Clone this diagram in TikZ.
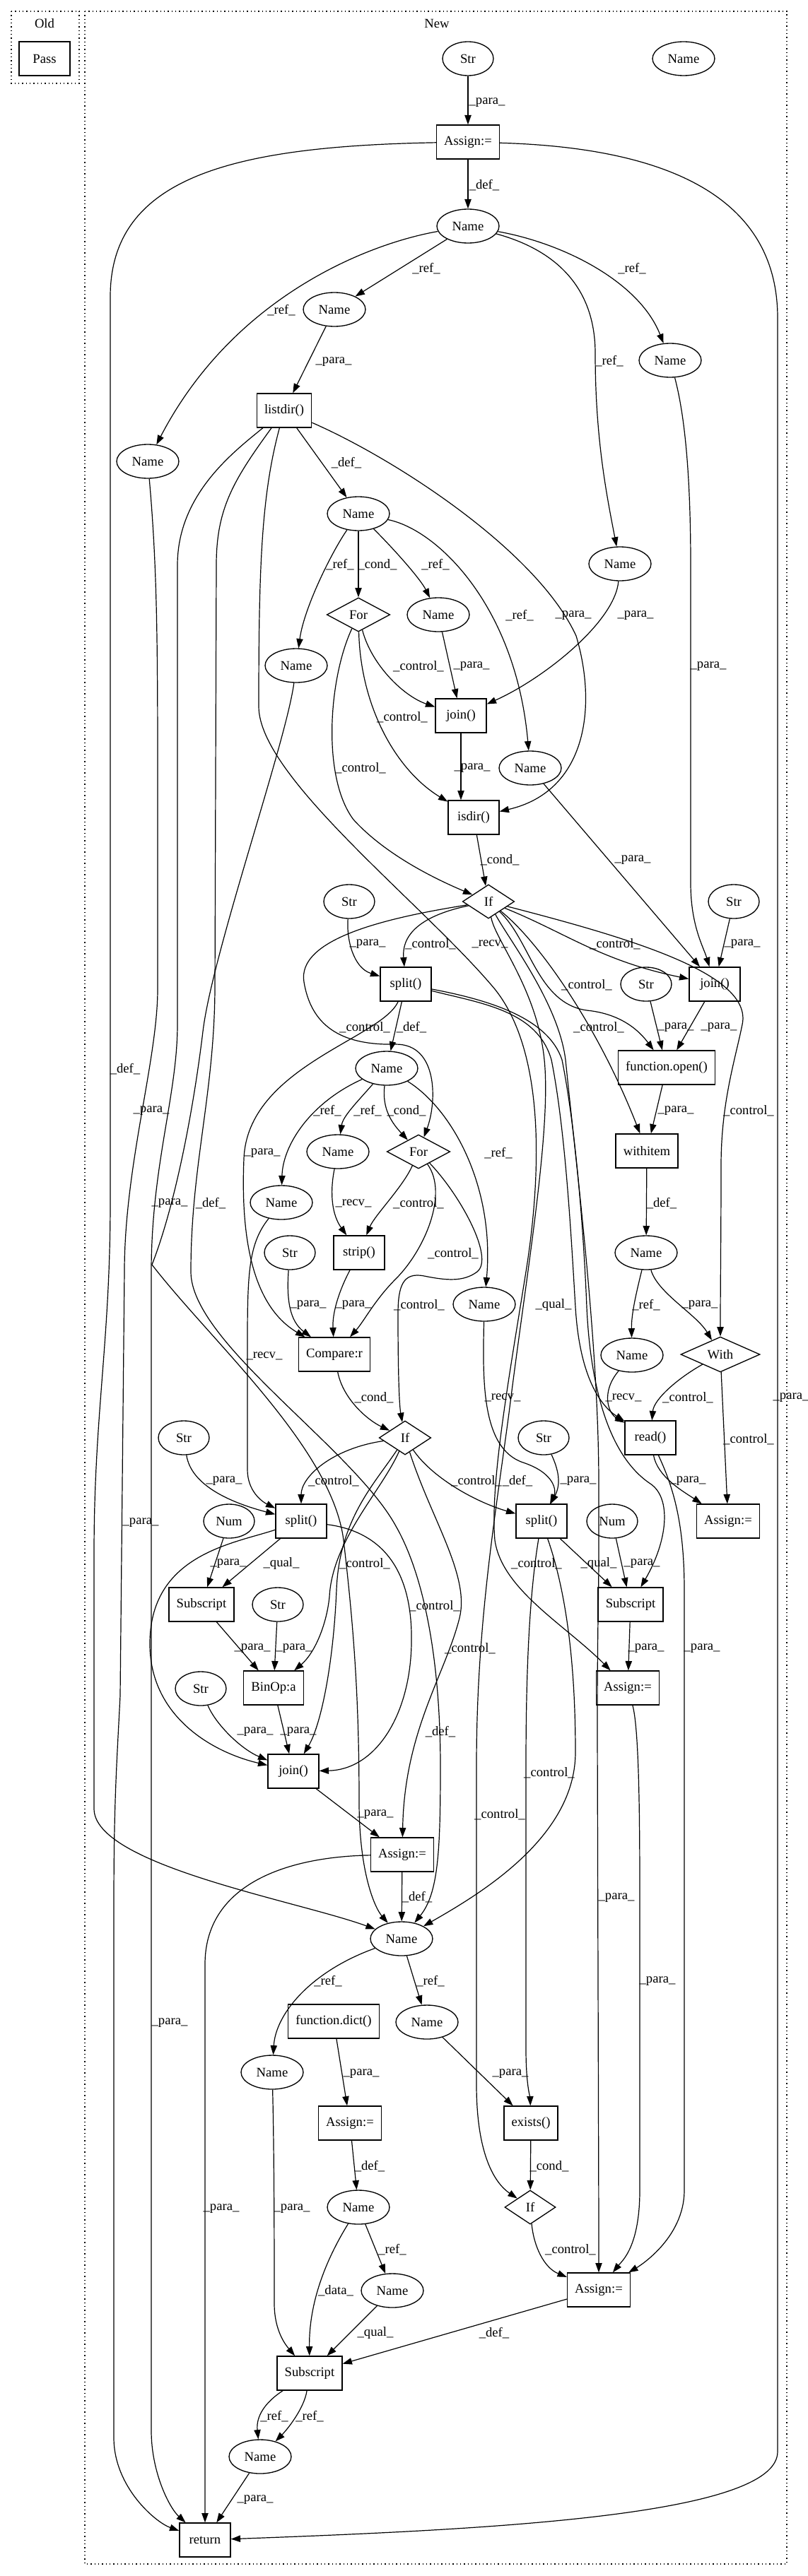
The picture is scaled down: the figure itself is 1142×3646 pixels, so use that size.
\documentclass[tikz,border=0pt]{standalone}
\usepackage{fontspec}
\setmainfont{Liberation Serif}
\usetikzlibrary{shapes.geometric,arrows.meta,calc}
\newcommand\elab[4]{\node[lbl] (#1) at (#2,#3) {#4};}
\begin{document}
\begin{tikzpicture}[x=0.75pt,y=-0.75pt,
  every node/.style={font=\fontsize{14pt}{16pt}\selectfont},
  nm/.style={ellipse,draw,line width=1pt,minimum width=66pt,minimum height=36pt,inner sep=0pt},
  st/.style={ellipse,draw,line width=1pt,minimum width=54pt,minimum height=36pt,inner sep=0pt},
  bx/.style={rectangle,draw,line width=1pt,minimum width=54pt,minimum height=36pt,inner xsep=8pt,inner ysep=0pt},
  dm/.style={diamond,draw,line width=1pt,minimum height=36pt,inner sep=0pt},
  e/.style={draw,line width=0.9pt,-{Triangle[length=10pt,width=7pt]}},
  lbl/.style={inner sep=0pt},
  frame/.style={draw,line width=1pt,dash pattern=on 1pt off 3pt}]
\useasboundingbox (0,0) rectangle (1142,3646);
\draw[frame] (16,16) rectangle (112,118);
\draw[frame] (120,16) rectangle (1113,3629);
\node (tOld) at (63,33) {Old};
\node (tNew) at (618,33) {New};
\node[bx] (Pass) at (63,83) {Pass};
% nodes
\node[st] (S1) at (662,83) {Str};
\node[nm] (NmIso) at (967,83) {Name};
\node[bx] (A1) at (662,201) {Assign:=};
\node[nm] (Nm1) at (662,320) {Name};
\node[nm] (Nm2) at (473,438) {Name};
\node[nm] (Nm3) at (209,653) {Name};
\node[nm] (Nm4) at (948,510) {Name};
\node[bx] (LD) at (402,581) {listdir()};
\node[nm] (Nm5) at (507,727) {Name};
\node[dm,minimum width=67pt] (For1) at (507,870) {For};
\node[nm] (Nm6) at (620,870) {Name};
\node[nm] (Nm7) at (419,942) {Name};
\node[nm] (Nm8) at (877,798) {Name};
\node[bx] (J1) at (652,1013) {join()};
\node[nm] (Nm9) at (750,1087) {Name};
\node[bx] (ISD) at (670,1157) {isdir()};
\node[dm,minimum width=55pt] (If1) at (691,1276) {If};
\node[st] (S2) at (494,1276) {Str};
\node[st] (S3) at (1038,1276) {Str};
\node[bx] (SP1) at (574,1393) {split()};
\node[st] (S4) at (914,1393) {Str};
\node[bx] (J2) at (1011,1393) {join()};
\node[bx] (OPEN) at (943,1511) {function.open()};
\node[nm] (Nm10) at (547,1512) {Name};
\node[nm] (Nm11) at (478,1630) {Name};
\node[dm,minimum width=67pt] (For2) at (592,1630) {For};
\node[bx] (WI) at (915,1629) {withitem};
\node[nm] (Nm12) at (398,1702) {Name};
\node[st] (S5) at (410,1773) {Str};
\node[bx] (STRIP) at (508,1773) {strip()};
\node[nm] (Nm13) at (914,1773) {Name};
\node[nm] (Nm14) at (685,1846) {Name};
\node[bx] (CMP) at (473,1917) {Compare:r};
\node[nm] (Nm15) at (894,1918) {Name};
\node[dm,minimum width=84pt] (WITH) at (1019,1917) {With};
\node[dm,minimum width=55pt] (If2) at (573,2035) {If};
\node[st] (S6) at (260,2035) {Str};
\node[st] (S7) at (769,2035) {Str};
\node[bx] (READ) at (920,2035) {read()};
\node[bx] (SP2) at (426,2153) {split()};
\node[st] (NUM1) at (324,2153) {Num};
\node[bx] (SP3) at (766,2153) {split()};
\node[st] (NUM2) at (866,2153) {Num};
\node[bx] (A2) at (1030,2153) {Assign:=};
\node[bx] (SUB1) at (285,2271) {Subscript};
\node[st] (S8) at (393,2271) {Str};
\node[bx] (SUB2) at (892,2271) {Subscript};
\node[st] (S9) at (284,2390) {Str};
\node[bx] (BIN) at (387,2389) {BinOp:a};
\node[bx] (A3) at (888,2389) {Assign:=};
\node[bx] (J3) at (415,2507) {join()};
\node[bx] (A4) at (569,2625) {Assign:=};
\node[nm] (Nm16) at (568,2744) {Name};
\node[bx] (DICT) at (472,2861) {function.dict()};
\node[nm] (Nm17) at (604,2862) {Name};
\node[nm] (Nm18) at (385,2933) {Name};
\node[bx] (A5) at (495,3005) {Assign:=};
\node[bx] (EX) at (751,3005) {exists()};
\node[nm] (Nm19) at (507,3124) {Name};
\node[dm,minimum width=54pt] (If3) at (750,3124) {If};
\node[nm] (Nm20) at (555,3242) {Name};
\node[bx] (A6) at (847,3241) {Assign:=};
\node[bx] (SUB3) at (438,3359) {Subscript};
\node[nm] (Nm21) at (368,3477) {Name};
\node[bx] (RET) at (290,3595) {return};
% edges
\draw[e] (S1) -- (A1);
\draw[e] (A1) -- (Nm1);
\draw[e] (A1) .. controls (330,207) and (156,250) .. (156,420) -- (156,1700) .. controls (156,1900) and (133,2000) .. (133,2200) -- (133,2560) .. controls (133,2640) and (420,2690) .. (Nm16);
\draw[e] (A1) .. controls (980,210) and (1100,300) .. (1100,450) -- (1100,3470) .. controls (1100,3560) and (700,3580) .. (RET);
\draw[e] (Nm1) -- (Nm2);
\draw[e] (Nm1) .. controls (520,345) and (330,420) .. (Nm3);
\draw[e] (Nm1) .. controls (800,345) and (905,400) .. (Nm4);
\draw[e] (Nm1) .. controls (790,355) and (842,410) .. (842,500) .. controls (842,620) and (858,700) .. (Nm8);
\draw[e] (Nm2) -- (LD);
\draw[e] (LD) -- (Nm5);
\draw[e] (LD) .. controls (560,650) and (760,780) .. (815,900) .. controls (845,1000) and (830,1120) .. (ISD);
\draw[e] (Nm5) .. controls (470,780) and (430,860) .. (Nm7);
\draw[e] (Nm5) -- (For1);
\draw[e] (Nm5) .. controls (560,780) and (595,820) .. (Nm6);
\draw[e] (Nm5) .. controls (620,750) and (730,860) .. (Nm9);
\draw[e] (Nm4) .. controls (972,600) and (977,700) .. (977,800) -- (977,1250) .. controls (977,1310) and (995,1340) .. (J2);
\draw[e] (Nm8) .. controls (870,880) and (770,960) .. (J1);
\draw[e] (For1) .. controls (525,940) and (570,985) .. (J1);
\draw[e] (Nm6) -- (J1);
\draw[e] (For1) .. controls (510,1000) and (560,1090) .. (ISD);
\draw[e] (For1) .. controls (465,960) and (455,1100) .. (500,1160) .. controls (550,1215) and (630,1250) .. (If1);
\draw[e] (J1) -- (ISD.north -| J1);
\draw[e] (Nm9) -- (J2);
\draw[e] (ISD) -- (If1);
\draw[e] (If1) .. controls (600,1295) and (568,1320) .. (SP1);
\draw[e] (S2) .. controls (490,1330) and (500,1370) .. (SP1);
\draw[e] (If1) .. controls (800,1320) and (850,1360) .. (J2);
\draw[e] (S3) -- (J2);
\draw[e] (If1) .. controls (750,1330) and (760,1420) .. (830,1430) .. controls (880,1435) and (905,1460) .. (OPEN);
\draw[e] (S4) -- (OPEN);
\draw[e] (J2) -- (OPEN);
\draw[e] (If1) .. controls (760,1330) and (845,1450) .. (WI);
\draw[e] (OPEN) -- (WI);
\draw[e] (If1) .. controls (900,1330) and (1065,1380) .. (1050,1450) .. controls (1040,1500) and (1020,1560) .. (1020,1650) .. controls (1020,1750) and (1019,1820) .. (WITH);
\draw[e] (WI) -- (Nm13);
\draw[e] (Nm13) .. controls (900,1830) and (893,1860) .. (Nm15);
\draw[e] (Nm13) .. controls (930,1830) and (985,1860) .. (WITH);
\draw[e] (Nm15) .. controls (850,1970) and (860,2000) .. (READ);
\draw[e] (WITH) .. controls (960,1950) and (925,1980) .. (READ);
\draw[e] (WITH) -- (A2);
\draw[e] (READ) .. controls (930,2090) and (965,2110) .. (A2);
\draw[e] (If1) .. controls (540,1300) and (420,1330) .. (430,1390) .. controls (440,1450) and (480,1480) .. (560,1478) .. controls (620,1478) and (618,1560) .. (For2);
\draw[e] (SP1) -- (Nm10);
\draw[e] (Nm10) .. controls (440,1560) and (400,1620) .. (Nm12);
\draw[e] (Nm10) .. controls (505,1560) and (485,1580) .. (Nm11);
\draw[e] (Nm10) .. controls (540,1570) and (555,1590) .. (For2);
\draw[e] (Nm10) .. controls (640,1570) and (700,1680) .. (Nm14);
\draw[e] (Nm11) .. controls (466,1690) and (470,1720) .. (STRIP);
\draw[e] (For2) .. controls (570,1680) and (530,1720) .. (STRIP);
\draw[e] (For2) .. controls (635,1690) and (600,1770) .. (560,1810) .. controls (530,1840) and (515,1870) .. (CMP);
\draw[e] (For2) .. controls (650,1690) and (700,1780) .. (675,1800) .. controls (655,1815) and (630,1812) .. (600,1806) .. controls (570,1800) and (563,1820) .. (563,1860) .. controls (563,1950) and (565,1990) .. (If2);
\draw[e] (S5) .. controls (405,1840) and (410,1870) .. (CMP);
\draw[e] (STRIP) .. controls (478,1830) and (470,1860) .. (CMP);
\draw[e] (SP1) .. controls (540,1470) and (350,1510) .. (345,1640) .. controls (340,1760) and (360,1850) .. (CMP);
\draw[e] (CMP) .. controls (485,1980) and (520,2010) .. (If2);
\draw[e] (Nm12) .. controls (352,1760) and (350,1800) .. (350,1900) -- (350,2080) .. controls (350,2110) and (370,2125) .. (SP2);
\draw[e] (S6) .. controls (270,2100) and (320,2125) .. (SP2);
\draw[e] (If2) .. controls (470,2050) and (426,2090) .. (SP2);
\draw[e] (Nm14) .. controls (683,1950) and (680,2050) .. (740,2070) .. controls (785,2085) and (787,2110) .. (SP3);
\draw[e] (S7) .. controls (790,2080) and (794,2100) .. (SP3);
\draw[e] (If2) .. controls (610,2090) and (670,2125) .. (SP3);
\draw[e] (NUM1) -- (SUB1);
\draw[e] (SP2) -- (SUB1);
\draw[e] (SP3) -- (SUB2);
\draw[e] (NUM2) -- (SUB2);
\draw[e] (SUB1) -- (BIN);
\draw[e] (S8) -- (BIN);
\draw[e] (If2) .. controls (540,2110) and (470,2180) .. (466,2260) .. controls (462,2300) and (445,2340) .. (BIN);
\draw[e] (S9) .. controls (305,2440) and (340,2475) .. (J3);
\draw[e] (BIN) -- (J3);
\draw[e] (If2) .. controls (530,2100) and (480,2150) .. (476,2250) .. controls (472,2350) and (455,2440) .. (J3);
\draw[e] (SP2) .. controls (520,2165) and (585,2200) .. (582,2327) .. controls (580,2430) and (530,2505) .. (J3);
\draw[e] (SP2) .. controls (330,2185) and (210,2200) .. (212,2330) .. controls (214,2430) and (300,2480) .. (J3);
\draw[e] (SUB2) -- (A3);
\draw[e] (If2) .. controls (610,2150) and (665,2230) .. (650,2290) .. controls (630,2370) and (572,2450) .. (A4);
\draw[e] (J3) -- (A4);
\draw[e] (A4) -- (Nm16);
\draw[e] (A4) .. controls (400,2628) and (290,2670) .. (290,2780) -- (RET);
\draw[e] (Nm16) .. controls (440,2790) and (390,2850) .. (Nm18);
\draw[e] (Nm16) -- (Nm17);
\draw[e] (Nm17) -- (EX);
\draw[e] (DICT) -- (A5);
\draw[e] (A5) -- (Nm19);
\draw[e] (Nm19) -- (Nm20);
\draw[e] (Nm18) .. controls (388,3050) and (388,3200) .. (388,3260) .. controls (388,3300) and (405,3320) .. (SUB3);
\draw[e] (Nm19) .. controls (460,3200) and (437,3260) .. (SUB3);
\draw[e] (Nm20) -- (SUB3);
\draw[e] (A6) -- (SUB3);
\draw[e] (SUB3) .. controls (375,3400) and (362,3420) .. (Nm21);
\draw[e] (SUB3) .. controls (430,3410) and (405,3440) .. (Nm21);
\draw[e] (Nm21) -- (RET);
\draw[e] (EX) -- (If3);
\draw[e] (If3) .. controls (755,3180) and (770,3210) .. (A6);
% long corridors
\draw[e] (Nm3) .. controls (222,800) and (223,900) .. (223,1100) -- (223,1400) .. controls (223,1500) and (176,1650) .. (176,1800) -- (170,2400) .. controls (165,2500) and (161,2550) .. (161,2700) -- (161,3450) .. controls (161,3520) and (220,3570) .. (RET);
\draw[e] (LD) .. controls (330,640) and (251,700) .. (251,800) -- (251,1450) .. controls (251,1550) and (214,1650) .. (214,1800) -- (214,3440) .. controls (214,3500) and (240,3550) .. (RET);
\draw[e] (LD) .. controls (330,680) and (306,720) .. (306,800) -- (304,1400) .. controls (303,1550) and (270,1650) .. (270,1800) .. controls (270,1900) and (500,2050) .. (560,2160) .. controls (600,2230) and (623,2350) .. (623,2500) .. controls (623,2620) and (620,2680) .. (Nm16);
\draw[e] (Nm7) .. controls (405,1050) and (300,1350) .. (287,1460) .. controls (275,1560) and (250,1700) .. (215,1790) .. controls (300,1900) and (470,2050) .. (486,2180) .. controls (500,2300) and (508,2400) .. (508,2550) .. controls (508,2650) and (530,2700) .. (Nm16);
\draw[e] (LD) .. controls (370,700) and (366,800) .. (366,1000) .. controls (366,1100) and (600,1280) .. (700,1400) .. controls (780,1500) and (760,1700) .. (744,1800) .. controls (720,1950) and (693,2100) .. (700,2180) .. controls (710,2250) and (800,2300) .. (A3);
\draw[e] (If1) .. controls (700,1330) and (760,1400) .. (770,1500) .. controls (780,1600) and (745,1800) .. (720,2000) .. controls (700,2150) and (674,2300) .. (674,2500) -- (674,2950) .. controls (674,3050) and (700,3090) .. (If3);
\draw[e] (SP3) .. controls (750,2250) and (744,2350) .. (744,2500) -- (744,2900) .. controls (744,2950) and (750,2970) .. (EX);
\draw[e] (SP3) .. controls (800,2250) and (814,2350) .. (814,2480) .. controls (814,2600) and (680,2680) .. (Nm16);
\draw[e] (SP1) .. controls (680,1420) and (760,1430) .. (780,1500) .. controls (800,1600) and (808,1750) .. (814,1850) .. controls (820,1950) and (850,1990) .. (READ);
\draw[e] (SP1) .. controls (690,1415) and (775,1440) .. (795,1500) .. controls (815,1600) and (826,1750) .. (830,1850) .. controls (835,1960) and (860,2060) .. (920,2100) .. controls (950,2120) and (945,2180) .. (SUB2);
\draw[e] (If1) .. controls (720,1330) and (790,1420) .. (800,1500) .. controls (815,1650) and (847,1900) .. (847,2100) -- (847,2200) .. controls (847,2260) and (845,2300) .. (845,2450) -- (847,3150) .. controls (847,3180) and (847,3200) .. (A6);
\draw[e] (A3) .. controls (905,2450) and (905,2600) .. (905,2700) -- (905,3100) .. controls (905,3180) and (880,3200) .. (A6);
\draw[e] (READ) .. controls (950,2100) and (968,2150) .. (968,2250) -- (968,3100) .. controls (968,3170) and (900,3210) .. (A6);
% labels
\elab{l1}{689}{145}{\_para\_}
\elab{l2}{685}{262}{\_def\_}
\elab{l3}{603}{380}{\_ref\_}
\elab{l4}{894}{380}{\_ref\_}
\elab{l5}{398}{439}{\_ref\_}
\elab{l6}{472}{512}{\_para\_}
\elab{l7}{862}{511}{\_ref\_}
\elab{l8}{490}{655}{\_def\_}
\elab{l9}{481}{799}{\_ref\_}
\elab{l10}{534}{799}{\_cond\_}
\elab{l11}{616}{799}{\_ref\_}
\elab{l12}{735}{871}{\_ref\_}
\elab{l13}{811}{871}{\_para\_}
\elab{l14}{899}{871}{\_para\_}
\elab{l15}{592}{943}{\_control\_}
\elab{l16}{667}{943}{\_para\_}
\elab{l17}{1002}{943}{\_para\_}
\elab{l18}{569}{1015}{\_control\_}
\elab{l19}{510}{1087}{\_control\_}
\elab{l20}{668}{1087}{\_para\_}
\elab{l21}{895}{1217}{\_para\_}
\elab{l22}{707}{1217}{\_cond\_}
\elab{l23}{520}{1336}{\_para\_}
\elab{l24}{609}{1336}{\_control\_}
\elab{l25}{693}{1336}{\_recv\_}
\elab{l26}{870}{1336}{\_control\_}
\elab{l27}{1050}{1336}{\_para\_}
\elab{l28}{830}{1394}{\_control\_}
\elab{l29}{516}{1454}{\_control\_}
\elab{l30}{582}{1454}{\_def\_}
\elab{l31}{847}{1454}{\_control\_}
\elab{l32}{956}{1454}{\_para\_}
\elab{l33}{1017}{1454}{\_para\_}
\elab{l34}{177}{1513}{\_def\_}
\elab{l35}{214}{1572}{\_para\_}
\elab{l36}{463}{1572}{\_ref\_}
\elab{l37}{520}{1572}{\_ref\_}
\elab{l38}{575}{1572}{\_cond\_}
\elab{l39}{956}{1572}{\_para\_}
\elab{l40}{1059}{1572}{\_control\_}
\elab{l41}{371}{1632}{\_para\_}
\elab{l42}{705}{1632}{\_ref\_}
\elab{l43}{240}{1703}{\_para\_}
\elab{l44}{298}{1703}{\_def\_}
\elab{l45}{500}{1703}{\_recv\_}
\elab{l46}{592}{1703}{\_control\_}
\elab{l47}{936}{1703}{\_def\_}
\elab{l48}{641}{1774}{\_control\_}
\elab{l49}{436}{1847}{\_para\_}
\elab{l50}{500}{1847}{\_para\_}
\elab{l51}{593}{1847}{\_control\_}
\elab{l52}{783}{1847}{\_qual\_}
\elab{l53}{914}{1847}{\_ref\_}
\elab{l54}{990}{1847}{\_para\_}
\elab{l55}{374}{1919}{\_recv\_}
\elab{l56}{529}{1978}{\_cond\_}
\elab{l57}{711}{1978}{\_recv\_}
\elab{l58}{882}{1978}{\_recv\_}
\elab{l59}{973}{1978}{\_control\_}
\elab{l60}{1119}{1978}{\_para\_}
\elab{l61}{1059}{2037}{\_control\_}
\elab{l62}{317}{2096}{\_para\_}
\elab{l63}{472}{2096}{\_control\_}
\elab{l64}{674}{2096}{\_control\_}
\elab{l65}{732}{2096}{\_def\_}
\elab{l66}{818}{2096}{\_para\_}
\elab{l67}{973}{2096}{\_para\_}
\elab{l68}{199}{2155}{\_para\_}
\elab{l69}{323}{2213}{\_para\_}
\elab{l70}{398}{2213}{\_qual\_}
\elab{l71}{516}{2213}{\_control\_}
\elab{l72}{759}{2213}{\_control\_}
\elab{l73}{847}{2213}{\_qual\_}
\elab{l74}{908}{2213}{\_para\_}
\elab{l75}{615}{2273}{\_control\_}
\elab{l76}{357}{2333}{\_para\_}
\elab{l77}{416}{2333}{\_para\_}
\elab{l78}{665}{2333}{\_control\_}
\elab{l79}{914}{2333}{\_para\_}
\elab{l80}{993}{2333}{\_para\_}
\elab{l81}{361}{2451}{\_para\_}
\elab{l82}{422}{2451}{\_para\_}
\elab{l83}{623}{2451}{\_def\_}
\elab{l84}{777}{2509}{\_control\_}
\elab{l85}{531}{2568}{\_para\_}
\elab{l86}{707}{2568}{\_control\_}
\elab{l87}{590}{2685}{\_def\_}
\elab{l88}{872}{2686}{\_para\_}
\elab{l89}{464}{2804}{\_ref\_}
\elab{l90}{609}{2804}{\_ref\_}
\elab{l91}{930}{2804}{\_para\_}
\elab{l92}{240}{2863}{\_para\_}
\elab{l93}{511}{2935}{\_para\_}
\elab{l94}{722}{2935}{\_para\_}
\elab{l95}{523}{3066}{\_def\_}
\elab{l96}{777}{3066}{\_cond\_}
\elab{l97}{313}{3126}{\_para\_}
\elab{l98}{413}{3126}{\_para\_}
\elab{l99}{555}{3184}{\_ref\_}
\elab{l100}{807}{3184}{\_control\_}
\elab{l101}{475}{3242}{\_data\_}
\elab{l102}{531}{3302}{\_qual\_}
\elab{l103}{699}{3302}{\_def\_}
\elab{l104}{388}{3420}{\_ref\_}
\elab{l105}{438}{3420}{\_ref\_}
\elab{l106}{361}{3538}{\_para\_}
\end{tikzpicture}
\end{document}
